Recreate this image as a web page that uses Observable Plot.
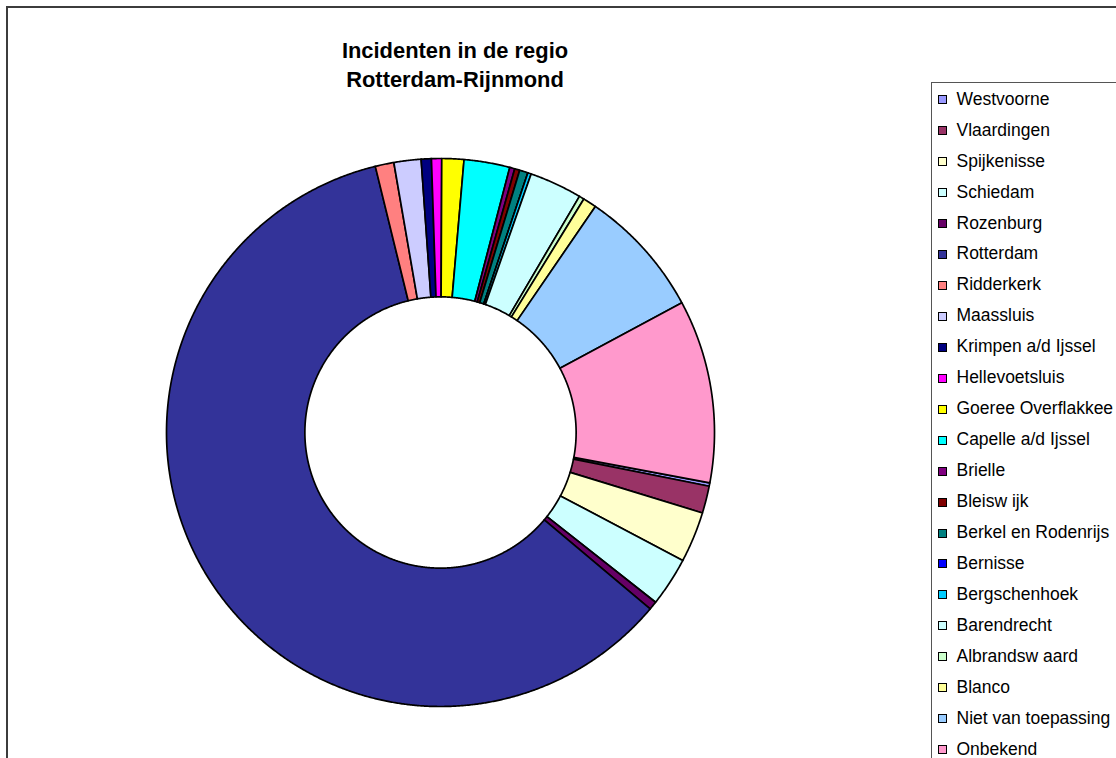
<!DOCTYPE html>
<html>
<head>
<meta charset="utf-8">
<script src="https://cdn.jsdelivr.net/npm/d3@7"></script>
<script src="https://cdn.jsdelivr.net/npm/@observablehq/plot@0.6"></script>
<style>
  html, body { margin: 0; padding: 0; background: #fff; overflow: hidden; }
  body { width: 1116px; height: 758px; position: relative; font-family: "Liberation Sans", Arial, sans-serif; }
  #frame { position: absolute; left: 6px; top: 6px; width: 1200px; height: 800px; border: 2px solid #3c3c3c; box-sizing: border-box; }
  #title { position: absolute; left: 255px; width: 400px; top: 36px; text-align: center; font-weight: bold; font-size: 21.9px; line-height: 29px; color: #000; }
  #chart { position: absolute; left: 160px; top: 152px; }
  #legend { position: absolute; left: 931px; top: 82px; width: 300px; height: 800px; border: 1.5px solid #555; box-sizing: border-box; }
  .item { position: absolute; left: 0; height: 31px; font-size: 17.5px; line-height: 31px; white-space: nowrap; color: #000; }
  .sw { position: absolute; left: 5.5px; top: 11.5px; width: 7px; height: 7px; border: 1.5px solid #000; }
  .lbl { position: absolute; left: 24.5px; top: 0; }
</style>
</head>
<body>
<div id="frame"></div>
<div id="title">Incidenten in de regio<br>Rotterdam-Rijnmond</div>
<div id="chart"></div>
<div id="legend"></div>
<script>
// Data (in legend / drawing order, clockwise)
const names = [
  "Westvoorne", "Vlaardingen", "Spijkenisse", "Schiedam", "Rozenburg", "Rotterdam",
  "Ridderkerk", "Maassluis", "Krimpen a/d Ijssel", "Hellevoetsluis", "Goeree Overflakkee",
  "Capelle a/d Ijssel", "Brielle", "Bleisw ijk", "Berkel en Rodenrijs", "Bernisse",
  "Bergschenhoek", "Barendrecht", "Albrandsw aard", "Blanco", "Niet van toepassing", "Onbekend"
];
const values = [
  2, 16, 30, 29, 5, 601,
  11, 16, 6, 6, 13,
  27, 3, 3, 5, 0,
  2, 31, 3, 8, 76, 108
];
const colors = [
  "#9999FF", "#993366", "#FFFFCC", "#CCFFFF", "#660066", "#333399",
  "#FF8080", "#CCCCFF", "#000080", "#FF00FF", "#FFFF00",
  "#00FFFF", "#800080", "#800000", "#008080", "#0000FF",
  "#00CCFF", "#CCFFFF", "#CCFFCC", "#FFFF99", "#99CCFF", "#FF99CC"
];
const firstSliceAngle = 100.6; // degrees, clockwise from 12 o'clock
const holeRatio = 0.495;

const slices = names.map((name, i) => ({name, value: values[i], color: colors[i], i}));
const pie = d3.pie().value(d => d.value).sort(null)
  .startAngle(firstSliceAngle * Math.PI / 180)
  .endAngle(firstSliceAngle * Math.PI / 180 + 2 * Math.PI);
const arcs = pie(slices);

// Build polygon outlines for every slice from the pie angles
const pts = [];
for (const a of arcs) {
  const n = Math.max(2, Math.ceil((a.endAngle - a.startAngle) / (Math.PI / 720)));
  const ring = [];
  for (let k = 0; k <= n; k++) {
    const t = a.startAngle + (a.endAngle - a.startAngle) * k / n;
    ring.push({r: 1, t});
  }
  for (let k = n; k >= 0; k--) {
    const t = a.startAngle + (a.endAngle - a.startAngle) * k / n;
    ring.push({r: holeRatio, t});
  }
  for (const p of ring) {
    pts.push({name: a.data.name, color: a.data.color, x: p.r * Math.sin(p.t), y: p.r * Math.cos(p.t)});
  }
}

const plot = Plot.plot({
  width: 560,
  height: 560,
  margin: 6,
  x: {domain: [-1, 1], axis: null},
  y: {domain: [-1, 1], axis: null},
  color: {type: "identity"},
  marks: [
    Plot.line(pts, {
      x: "x", y: "y", z: "name",
      fill: "color",
      stroke: "#000",
      strokeWidth: 1.7,
      strokeLinejoin: "round",
      curve: "linear-closed"
    })
  ]
});
document.getElementById("chart").appendChild(plot);

// Legend
const legend = document.getElementById("legend");
names.forEach((name, i) => {
  const item = document.createElement("div");
  item.className = "item";
  item.style.top = (0.7 + i * 30.95) + "px";
  const sw = document.createElement("div");
  sw.className = "sw";
  sw.style.background = colors[i];
  const lbl = document.createElement("div");
  lbl.className = "lbl";
  lbl.textContent = name;
  item.appendChild(sw);
  item.appendChild(lbl);
  legend.appendChild(item);
});
</script>
</body>
</html>
